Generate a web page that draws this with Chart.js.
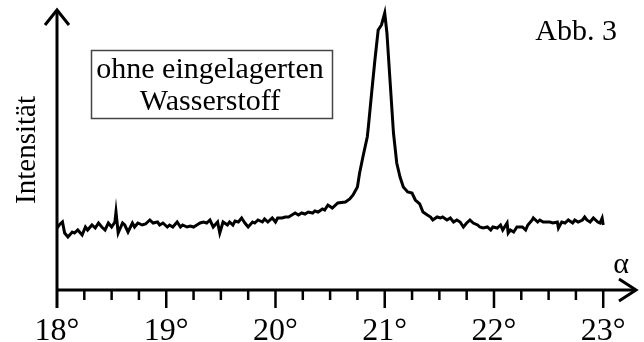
<!DOCTYPE html>
<html>
<head>
<meta charset="utf-8">
<script src="https://cdn.jsdelivr.net/npm/chart.js@4"></script>
<style>
  html, body { margin: 0; padding: 0; background: #fff; }
  #wrap { width: 644px; height: 342px; }
</style>
</head>
<body>
<div id="wrap"><canvas id="chart"></canvas></div>
<script>
// Diffraction angle (degrees) and measured intensity (arbitrary units)
const alpha = [
  18.00, 18.02, 18.05, 18.07, 18.10, 18.14, 18.16, 18.19, 18.23, 18.26,
  18.28, 18.32, 18.35, 18.38, 18.41, 18.44, 18.47, 18.50, 18.53, 18.54,
  18.56, 18.60, 18.62, 18.65, 18.69, 18.71, 18.74, 18.78, 18.81, 18.85,
  18.88, 18.92, 18.94, 18.97, 19.01, 19.03, 19.06, 19.10, 19.13, 19.15,
  19.19, 19.22, 19.25, 19.28, 19.31, 19.34, 19.37, 19.40, 19.43, 19.47,
  19.49, 19.52, 19.56, 19.58, 19.61, 19.63, 19.66, 19.69, 19.72, 19.75,
  19.79, 19.81, 19.84, 19.88, 19.90, 19.93, 19.97, 20.00, 20.02, 20.06,
  20.09, 20.12, 20.15, 20.18, 20.21, 20.24, 20.27, 20.30, 20.34, 20.36,
  20.39, 20.43, 20.45, 20.48, 20.52, 20.57, 20.64, 20.68, 20.71, 20.75,
  20.77, 20.80, 20.84, 20.85, 20.88, 20.91, 20.94, 20.97, 20.99, 21.00,
  21.02, 21.05, 21.08, 21.11, 21.14, 21.17, 21.21, 21.25, 21.28, 21.32,
  21.35, 21.39, 21.42, 21.44, 21.48, 21.51, 21.53, 21.57, 21.60, 21.63,
  21.66, 21.69, 21.72, 21.75, 21.78, 21.81, 21.85, 21.87, 21.90, 21.94,
  21.97, 21.99, 22.03, 22.06, 22.08, 22.12, 22.13, 22.15, 22.18, 22.21,
  22.24, 22.26, 22.29, 22.31, 22.35, 22.36, 22.40, 22.42, 22.45, 22.49,
  22.51, 22.54, 22.58, 22.59, 22.62, 22.65, 22.68, 22.72, 22.74, 22.77,
  22.81, 22.83, 22.85, 22.88, 22.91, 22.95, 22.97, 22.99, 23.00
];
const intensity = [
  62, 65, 68, 57, 53, 58, 57, 60, 55, 63,
  60, 65, 62, 67, 63, 60, 67, 63, 68, 78,
  57, 67, 65, 58, 67, 63, 67, 65, 66, 70,
  67, 68, 65, 67, 63, 65, 63, 68, 63, 65,
  63, 64, 63, 65, 67, 68, 67, 70, 63, 68,
  57, 68, 65, 68, 65, 69, 68, 72, 67, 63,
  68, 67, 70, 68, 71, 68, 72, 68, 72, 72,
  73, 73, 75, 77, 75, 77, 76, 78, 77, 79,
  78, 81, 80, 85, 82, 87, 88, 91, 95, 103,
  117, 133, 153, 163, 197, 230, 260, 265, 273, 277,
  257, 207, 157, 127, 113, 103, 98, 97, 90, 86,
  78, 75, 73, 70, 73, 72, 73, 70, 72, 68,
  70, 68, 63, 67, 70, 67, 65, 63, 62, 63,
  60, 63, 62, 65, 60, 67, 57, 60, 58, 63,
  63, 63, 60, 65, 70, 72, 68, 70, 68, 68,
  68, 67, 68, 62, 68, 67, 70, 67, 70, 68,
  70, 73, 70, 68, 72, 68, 67, 72, 65
];

const tickValues = [18, 19, 20, 21, 22, 23];
const tickLabels = ['18°', '19°', '20°', '21°', '22°', '23°'];
const minorStep = 0.25;

const yTitle = 'Intensität';
const xTitle = 'α';
const figLabel = 'Abb. 3';
const boxLines = ['ohne eingelagerten', 'Wasserstoff'];

const serif = '"Liberation Serif", "Times New Roman", serif';

// Axes with arrows, tick marks and the annotations
const decorations = {
  id: 'decorations',
  afterDraw(chart) {
    const ctx = chart.ctx;
    const xs = chart.scales.x;
    const ys = chart.scales.y;
    const x0 = xs.getPixelForValue(tickValues[0]);
    const y0 = ys.getPixelForValue(0);
    const xEnd = xs.right;
    const yTop = ys.top;

    ctx.save();
    ctx.strokeStyle = '#000';
    ctx.lineWidth = 3;
    ctx.lineJoin = 'miter';

    // axis lines
    ctx.beginPath();
    ctx.moveTo(x0, y0 + 18);
    ctx.lineTo(x0, yTop + 1);
    ctx.moveTo(x0 - 1.5, y0);
    ctx.lineTo(xEnd - 1, y0);
    ctx.stroke();

    // arrow heads
    ctx.beginPath();
    ctx.moveTo(x0 - 12, yTop + 15);
    ctx.lineTo(x0, yTop);
    ctx.lineTo(x0 + 12, yTop + 15);
    ctx.moveTo(xEnd - 17, y0 - 11);
    ctx.lineTo(xEnd, y0);
    ctx.lineTo(xEnd - 17, y0 + 11);
    ctx.stroke();

    // tick marks
    ctx.lineWidth = 2.5;
    ctx.beginPath();
    const last = tickValues[tickValues.length - 1];
    for (let v = tickValues[0] + minorStep; v <= last + 1e-6; v += minorStep) {
      const px = xs.getPixelForValue(v);
      const major = Math.abs(v - Math.round(v)) < 1e-6;
      ctx.moveTo(px, y0);
      ctx.lineTo(px, y0 + (major ? 18 : 10));
    }
    ctx.stroke();

    // legend box
    ctx.lineWidth = 1.5;
    ctx.strokeStyle = '#444';
    ctx.strokeRect(91.5, 50.5, 241, 68);

    ctx.fillStyle = '#000';
    ctx.font = '30px ' + serif;
    ctx.textAlign = 'center';
    ctx.textBaseline = 'alphabetic';
    ctx.fillText(boxLines[0], 210, 78);
    ctx.fillText(boxLines[1], 210, 110);

    ctx.textAlign = 'right';
    ctx.fillText(figLabel, 617, 40);

    ctx.textAlign = 'center';
    ctx.fillText(xTitle, 621, 273);
    ctx.restore();
  }
};

const ctx = document.getElementById('chart').getContext('2d');

new Chart(ctx, {
  type: 'line',
  data: {
    datasets: [{
      data: alpha.map((a, i) => ({ x: a, y: intensity[i] })),
      borderColor: '#000',
      borderWidth: 3,
      pointRadius: 0,
      tension: 0,
      fill: false,
      clip: false
    }]
  },
  options: {
    responsive: true,
    maintainAspectRatio: false,
    animation: false,
    devicePixelRatio: 1,
    layout: { padding: { top: 10, right: 8, left: 0, bottom: 0 } },
    plugins: {
      legend: { display: false },
      tooltip: { enabled: false }
    },
    scales: {
      x: {
        type: 'linear',
        min: 18,
        max: 23.3,
        afterBuildTicks: (scale) => {
          scale.ticks = tickValues.map(v => ({ value: v }));
        },
        afterFit: (scale) => { scale.height = 52; },
        grid: { display: false },
        border: { display: false },
        ticks: {
          autoSkip: false,
          maxRotation: 0,
          padding: 14,
          color: '#000',
          font: { family: serif, size: 32 },
          callback: (v) => {
            const i = tickValues.indexOf(v);
            return i >= 0 ? tickLabels[i] : '';
          }
        }
      },
      y: {
        min: 0,
        max: 280,
        afterFit: (scale) => { scale.width = 57; },
        grid: { display: false },
        border: { display: false },
        ticks: { display: false },
        title: {
          display: true,
          text: yTitle,
          color: '#000',
          font: { family: serif, size: 29 },
          padding: { top: 10, bottom: 0 }
        }
      }
    }
  },
  plugins: [decorations]
});
</script>
</body>
</html>
